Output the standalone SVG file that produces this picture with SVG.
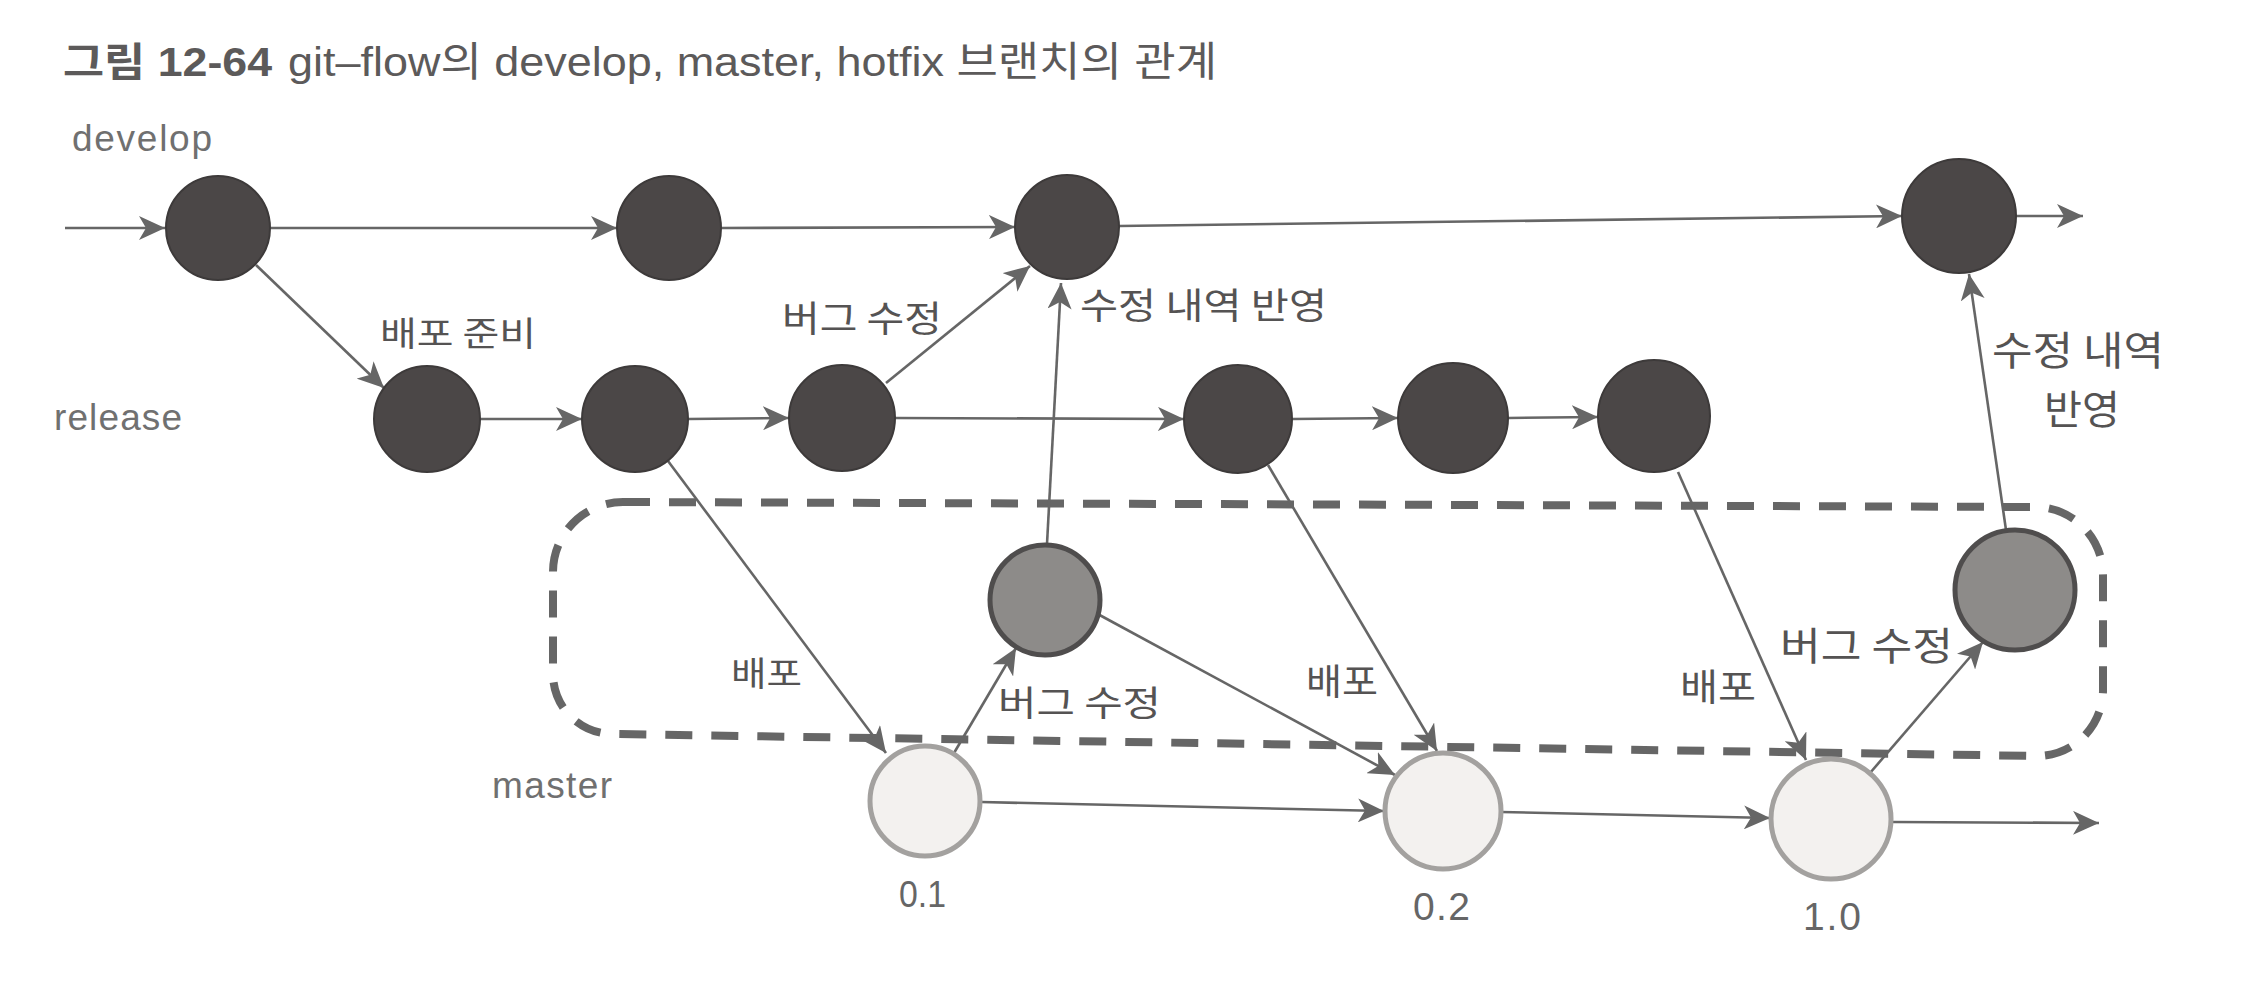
<svg xmlns="http://www.w3.org/2000/svg" width="2267" height="987" viewBox="0 0 2267 987">
<style>
.t{font-family:"Liberation Sans","Noto Sans CJK KR",sans-serif;fill:#5c5a5a}
.lab{font-family:"Liberation Sans","Noto Sans CJK KR",sans-serif;fill:#707070;font-size:37px}
.ko{font-family:"Noto Sans CJK KR","Liberation Sans",sans-serif;fill:#555353}
.num{font-family:"Liberation Sans",sans-serif;fill:#666}
.c{stroke:#666;stroke-width:2.6;fill:none;marker-end:url(#ah)}
.dk{fill:#4b4747;stroke:#3d3a3a;stroke-width:2}
.hf{fill:#8d8b89;stroke:#4f4d4d;stroke-width:5}
.ms{fill:#f3f1ef;stroke:#a3a19f;stroke-width:5}
.box{fill:none;stroke:#666;stroke-width:8;stroke-dasharray:27 19}
</style>
<defs>
<marker id="ah" markerUnits="userSpaceOnUse" viewBox="0 0 26 24" refX="26" refY="12" markerWidth="26" markerHeight="24" orient="auto">
<path d="M0,0 L26,12 L0,24 L7,12 Z" fill="#666"/>
</marker>
</defs>
<rect width="2267" height="987" fill="#ffffff"/>
<g id="title">
<text class="t" x="63" y="76" font-size="40" font-weight="bold" textLength="209" lengthAdjust="spacingAndGlyphs">그림 12-64</text>
<text class="t" x="288" y="76" font-size="41" textLength="929" lengthAdjust="spacingAndGlyphs">git–flow의 develop, master, hotfix 브랜치의 관계</text>
</g>
<g id="branch-labels">
<text class="lab" x="72" y="151" textLength="140" lengthAdjust="spacing">develop</text>
<text class="lab" x="54" y="430" textLength="128" lengthAdjust="spacing">release</text>
<text class="lab" x="492" y="798" textLength="120" lengthAdjust="spacing">master</text>
</g>
<g id="hotfix-box">
<path class="box" d="M623 502 L2035 507 A68 68 0 0 1 2103 575 L2103 690 A66 66 0 0 1 2037 756 L613 734 A60 60 0 0 1 553 674 L553 572 A70 70 0 0 1 623 502 Z"/>
</g>
<g id="connectors">
<line class="c" x1="65" y1="228" x2="165" y2="228"/>
<line class="c" x1="270" y1="228" x2="617" y2="228"/>
<line class="c" x1="721" y1="228" x2="1015" y2="227"/>
<line class="c" x1="1119" y1="226" x2="1902" y2="216"/>
<line class="c" x1="2016" y1="216" x2="2083" y2="216"/>
<line class="c" x1="256" y1="265" x2="384" y2="388"/>
<line class="c" x1="480" y1="419" x2="582" y2="419"/>
<line class="c" x1="688" y1="419" x2="789" y2="418"/>
<line class="c" x1="895" y1="418" x2="1184" y2="419"/>
<line class="c" x1="1292" y1="419" x2="1398" y2="418"/>
<line class="c" x1="1508" y1="418" x2="1598" y2="417"/>
<line class="c" x1="886" y1="383" x2="1030" y2="266"/>
<line class="c" x1="1047" y1="544" x2="1061" y2="283"/>
<line class="c" x1="668" y1="461" x2="886" y2="753"/>
<line class="c" x1="954" y1="753" x2="1016" y2="648"/>
<line class="c" x1="981" y1="802" x2="1384" y2="811"/>
<line class="c" x1="1094" y1="612" x2="1395" y2="775"/>
<line class="c" x1="1268" y1="465" x2="1437" y2="751"/>
<line class="c" x1="1501" y1="812" x2="1770" y2="818"/>
<line class="c" x1="1893" y1="822" x2="2099" y2="823"/>
<line class="c" x1="1678" y1="472" x2="1806" y2="760"/>
<line class="c" x1="1870" y1="773" x2="1983" y2="642"/>
<line class="c" x1="2006" y1="530" x2="1969" y2="274"/>
</g>
<g id="D1"><circle class="dk" cx="218" cy="228" r="52"/></g>
<g id="D2"><circle class="dk" cx="669" cy="228" r="52"/></g>
<g id="D3"><circle class="dk" cx="1067" cy="227" r="52"/></g>
<g id="D4"><circle class="dk" cx="1959" cy="216" r="57"/></g>
<g id="R1"><circle class="dk" cx="427" cy="419" r="53"/></g>
<g id="R2"><circle class="dk" cx="635" cy="419" r="53"/></g>
<g id="R3"><circle class="dk" cx="842" cy="418" r="53"/></g>
<g id="R4"><circle class="dk" cx="1238" cy="419" r="54"/></g>
<g id="R5"><circle class="dk" cx="1453" cy="418" r="55"/></g>
<g id="R6"><circle class="dk" cx="1654" cy="416" r="56"/></g>
<g id="H1"><circle class="hf" cx="1045" cy="600" r="55"/></g>
<g id="H2"><circle class="hf" cx="2015" cy="590" r="60"/></g>
<g id="M1"><circle class="ms" cx="925" cy="801" r="55"/><text class="num" x="899" y="907" font-size="36" textLength="47" lengthAdjust="spacingAndGlyphs">0.1</text></g>
<g id="M2"><circle class="ms" cx="1443" cy="811" r="58"/><text class="num" x="1413" y="920" font-size="39" textLength="57" lengthAdjust="spacing">0.2</text></g>
<g id="M3"><circle class="ms" cx="1831" cy="819" r="60"/><text class="num" x="1803" y="930" font-size="39" textLength="58" lengthAdjust="spacing">1.0</text></g>
<g id="edge-labels">
<text class="ko" x="380" y="346" font-size="34" textLength="156" lengthAdjust="spacingAndGlyphs">배포 준비</text>
<text class="ko" x="782" y="332" font-size="36" textLength="160" lengthAdjust="spacingAndGlyphs">버그 수정</text>
<text class="ko" x="1080" y="319" font-size="36" textLength="247" lengthAdjust="spacingAndGlyphs">수정 내역 반영</text>
<text class="ko" x="731" y="686" font-size="34" textLength="71" lengthAdjust="spacingAndGlyphs">배포</text>
<text class="ko" x="998" y="716" font-size="35" textLength="163" lengthAdjust="spacingAndGlyphs">버그 수정</text>
<text class="ko" x="1306" y="695" font-size="36" textLength="72" lengthAdjust="spacingAndGlyphs">배포</text>
<text class="ko" x="1680" y="701" font-size="37" textLength="76" lengthAdjust="spacingAndGlyphs">배포</text>
<text class="ko" x="1780" y="660" font-size="39" textLength="173" lengthAdjust="spacingAndGlyphs">버그 수정</text>
<text class="ko" x="1992" y="365" font-size="40" textLength="172" lengthAdjust="spacingAndGlyphs">수정 내역</text>
<text class="ko" x="2044" y="424" font-size="40" textLength="76" lengthAdjust="spacingAndGlyphs">반영</text>
</g>
</svg>
